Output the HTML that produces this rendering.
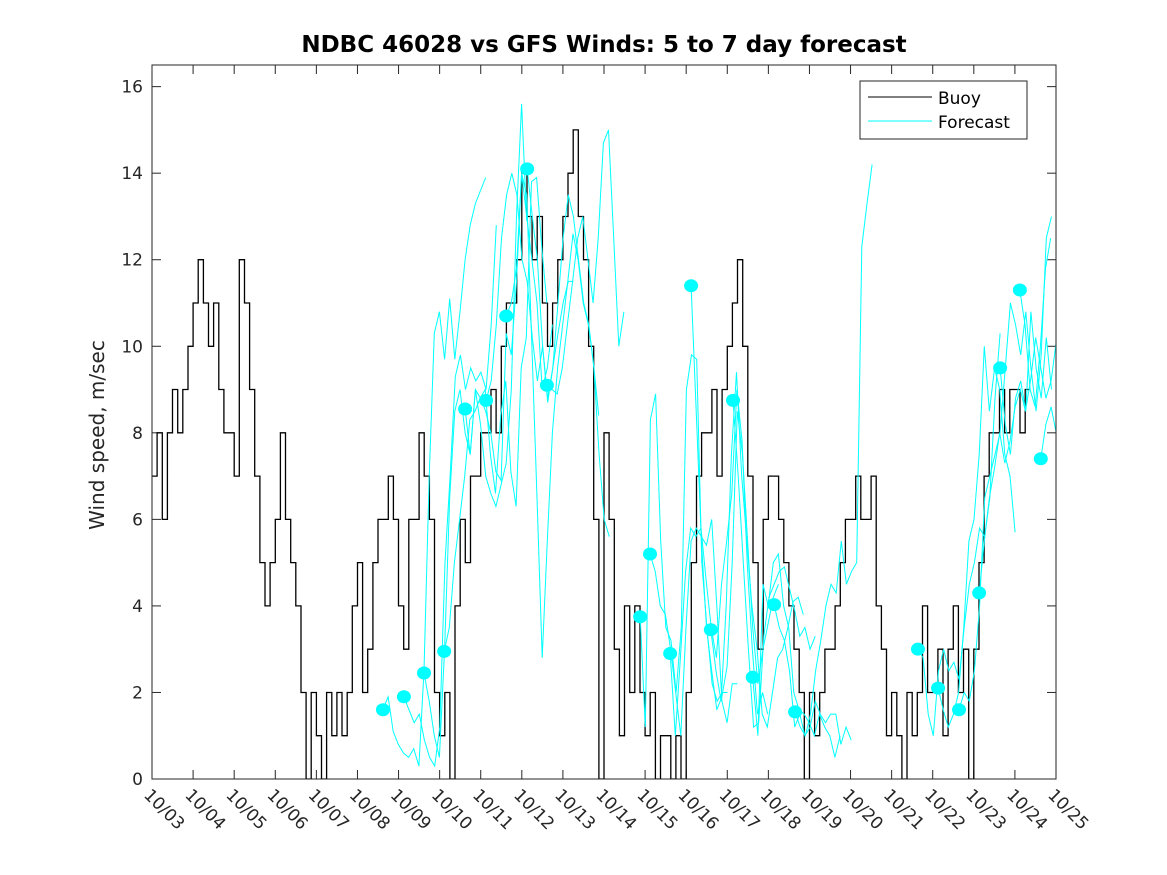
<!DOCTYPE html>
<html><head><meta charset="utf-8"><style>
body{margin:0;background:#fff}
svg{display:block;font-family:"DejaVu Sans","Liberation Sans",sans-serif}
</style></head><body>
<svg id="chart" width="1167" height="875" viewBox="0 0 1167 875">
<defs><clipPath id="pc"><rect x="152" y="65" width="904" height="714"/></clipPath></defs>
<rect width="1167" height="875" fill="#fff"/>
<text x="604" y="52" text-anchor="middle" font-size="23" font-weight="bold" fill="#000">NDBC 46028 vs GFS Winds: 5 to 7 day forecast</text>
<text transform="translate(104,435) rotate(-90)" text-anchor="middle" font-size="20" fill="#262626">Wind speed, m/sec</text>
<g id="grid"></g>
<g id="buoy" clip-path="url(#pc)"></g>
<g id="fc" clip-path="url(#pc)"></g>
<rect x="152" y="65" width="904" height="714" fill="none" stroke="#262626" stroke-width="1"/>
<g>
<rect x="860" y="81" width="167" height="58" fill="#fff" stroke="#262626"/>
<line x1="868" y1="97" x2="932" y2="97" stroke="#000"/>
<text x="938" y="104" font-size="17" fill="#000">Buoy</text>
<line x1="868" y1="121" x2="932" y2="121" stroke="#00ffff"/>
<text x="938" y="128" font-size="17" fill="#000">Forecast</text>
</g>
</svg>
<script>
const xTickLabels=["10/03","10/04","10/05","10/06","10/07","10/08","10/09","10/10","10/11","10/12","10/13","10/14","10/15","10/16","10/17","10/18","10/19","10/20","10/21","10/22","10/23","10/24","10/25"];
const yTicks=[0,2,4,6,8,10,12,14,16];
// buoy wind speed, 3-hourly from 10/03 00:00
const buoyStepDays=0.125;
const buoyValues=[7,8,6,8,9,8,9,10,11,12,11,10,11,9,8,8,7,12,11,9,7,5,4,5,6,8,6,5,4,2,0,2,1,0,2,1,2,1,2,4,5,2,3,5,6,6,7,6,4,3,6,6,8,7,6,2,1,2,0,4,6,5,7,7,8,8,9,8,10,11,11,12,14,13,12,13,11,10,11,12,13,14,15,13,12,10,6,0,8,6,3,1,4,2,4,2,1,2,0,1,1,0,1,0,2,5,7,8,8,9,7,9,10,11,12,10,7,5,3,6,7,7,6,5,4,3,2,0,2,1,2,3,3,4,5,6,6,7,6,6,7,4,3,1,2,1,0,2,1,2,4,2,2,3,1,3,4,2,3,0,3,5,7,8,8,9,8,9,9,8,9];
// forecast dots (day offset from 10/03, m/s)
const dotDays=[5.62,6.13,6.62,7.11,7.62,8.13,8.62,9.13,9.61,11.88,12.12,12.61,13.12,13.60,14.14,14.62,15.14,15.65,18.64,19.13,19.64,20.13,20.64,21.12,21.63];
const dotValues=[1.6,1.9,2.45,2.95,8.55,8.75,10.7,14.1,9.1,3.75,5.2,2.9,11.4,3.45,8.75,2.35,4.03,1.55,3.0,2.1,1.6,4.3,9.5,11.3,7.4];
const fcStepDays=0.125;
const fc0=[1.6,1.9,1.1,0.8,0.6,0.5,0.7,0.3,2.5,7,10.3,10.8,9.7,11.1,9.7,10.8,12,12.8,13.3,13.6,13.9];
const fc1=[1.9,1.6,1.3,1.5,0.9,0.5,0.3,1.2,5,7,9.3,9.8,9.0,9.5,9.2,9.4,9.0,10.5,12.8];
const fc2=[2.45,1.8,1.0,0.5,3,6.5,8.5,9.0,8.0,7.5,9.0,8.2,7.0,6.6,6.3,6.8,7.3,9.0,13.0,15.6,12.9];
const fc3=[2.95,3.5,5,6,7,8.3,8.5,8.8,9.0,7.5,6.6,8.4,9.2,7.1,6.3,9.5,10.2,13.8,13.9,12.3,11.0];
const fc4=[8.55,7.5,9.0,8.8,8.5,8.0,7.1,6.9,10.3,9.8,11.5,14,13,12,11,9,9.5,10.5];
const fc5=[8.75,9.2,10.5,12.5,13.5,14,13.5,12,11.5,10.2,9.2,10,8.8,9.5,10.3,11.0,11.5,11.5];
const fc6=[10.7,11,11.8,14,13.5,10,6.5,2.8,5.5,8,9.5,10.5,11.5,12.6,12,11,10.5,9.6,8.4];
const fc7=[14.1,13,12,10,8.7,9.5,11,12.5,13.5,13,12,11,10.5,9.5,7.5,6,5.6];
const fc8=[9.1,9.0,8.9,9.5,10.5,11.5,12.5,13.0,12.0,11.0,12.5,14.7,15.0,12.5,10.0,10.8];
const fc9=[3.75,1.2,8.3,8.9,5.5,3.5,3.2,2.0,3.5,9.0,9.8,9.7,5,3.5,2.2,1.8,2.0,2.0];
const fc10=[5.2,4.8,4.0,3.8,3.0,2.0,1.0,3.5,5.5,5.8,5.6,5.4,6.0,4.0,1.8,1.3,2.2,2.2];
const fc11=[2.9,1.0,2.8,4.8,5.8,5.6,5.8,4.6,3.5,2.8,4.5,5.5,6.6,9.0,7.8,5,3,1.5,2.0,1.5];
const fc12=[11.4,8.5,5.5,3.5,2.5,1.6,1.9,2.6,5,8.5,7.5,5.5,3.5,2.2,3.0,3.6,4.2,4.5];
const fc13=[3.45,2.5,1.8,4.0,7.5,9.4,7.0,5.5,4.0,3.0,1.5,1.2,2.0,2.8,3.0,3.5,4.1,4.2,3.8];
const fc14=[8.75,7,5,3,1.2,1.3,3.3,4.2,4.5,4.8,4.9,4.4,3.9,3.3,3.5,3.0,3.3];
const fc15=[2.35,1.0,4.5,4.0,5.0,5.2,4.0,3.5,2.0,1.6,1.5,1.3,1.0,1.5,1.2,1.0,0.5,1.0];
const fc16=[4.03,3.5,3.2,2.5,1.2,1.5,1.0,1.2,1.8,1.5,1.3,1.5,1.5,0.8,1.2,0.9];
const fc17=[1.55,1.2,1.0,1.5,2.5,3.2,4.0,4.5,4.3,5.5,4.5,4.8,5.0,12.3,13.3,14.2];
const fc18=[3.0,2.8,1.5,1.0,2.5,3.0,2.5,2.7,2.3,3.5,4.5,5.0,5.8,5.6,6.5,8.8,10.3];
const fc19=[2.1,1.6,1.2,1.5,2.0,3.5,5.5,6.0,7.5,10.0,8.5,9.5,9.0,7.5,7.0,5.7];
const fc20=[1.6,2.0,1.8,2.5,4.0,6.5,7,7.5,8,9.5,11,10.5,9.8,10.8,9.5,8.5,9.8,12.5,13.0];
const fc21=[4.3,5.5,6.5,7.2,8.0,7.3,7.8,8.6,9.0,8.5,9.2,10.2,9.5,8.8,9.2,10.1,8.0,8.3];
const fc22=[9.5,8.2,7.5,8.8,9.2,8.5,10.8,9.5,8.8,10.2,9.0];
const fc23=[11.3,10.5,9.0,8.6,10.0,11.8,12.5];
const fc24=[7.4,8.2,8.6,8.0];
const fcSeries=[fc0,fc1,fc2,fc3,fc4,fc5,fc6,fc7,fc8,fc9,fc10,fc11,fc12,fc13,fc14,fc15,fc16,fc17,fc18,fc19,fc20,fc21,fc22,fc23,fc24];

const NS="http://www.w3.org/2000/svg";
const X0=152,X1=1056,Y0=779,Y1=65,DMAX=22,VMAX=16.5;
function xs(d){return X0+(X1-X0)*d/DMAX;}
function ys(v){return Y0-(Y0-Y1)*v/VMAX;}
function mk(tag,parent,attrs){const e=document.createElementNS(NS,tag);for(const k in attrs)e.setAttribute(k,attrs[k]);parent.appendChild(e);return e;}

const grid=document.getElementById('grid');
xTickLabels.forEach((lab,i)=>{
  const x=xs(i);
  const t1=mk('line',grid,{x1:x,y1:Y0,x2:x,y2:Y0-9,stroke:'#262626'});
  
  
  const t2=mk('line',grid,{x1:x,y1:Y1,x2:x,y2:Y1+9,stroke:'#262626'});
  
  
  const tx=mk('text',grid,{transform:`translate(${x-9},${Y0+17}) rotate(45)`,'font-size':'17',fill:'#262626'});
  tx.textContent=lab;
  
  
});
yTicks.forEach(v=>{
  const y=ys(v);
  const t1=mk('line',grid,{x1:X0,y1:y,x2:X0+9,y2:y,stroke:'#262626'});
  
  
  const t2=mk('line',grid,{x1:X1,y1:y,x2:X1-9,y2:y,stroke:'#262626'});
  
  
  const tx=mk('text',grid,{x:X0-9,y:y+6,'text-anchor':'end','font-size':'17',fill:'#262626'});
  tx.textContent=v;
  
  
});

// buoy step line
let d='';
buoyValues.forEach((v,i)=>{
  const xa=xs(i*buoyStepDays),xb=xs((i+1)*buoyStepDays),y=ys(v);
  d+=(i===0?'M':'L')+xa.toFixed(1)+','+y.toFixed(1)+'L'+xb.toFixed(1)+','+y.toFixed(1);
});
const bp=mk('path',document.getElementById('buoy'),{d:d,fill:'none',stroke:'#000','stroke-width':'1.3'});



const fcg=document.getElementById('fc');
fcSeries.forEach((s,k)=>{
  const start=dotDays[k];
  const pts=s.map((v,i)=>xs(start+i*fcStepDays).toFixed(1)+','+ys(v).toFixed(1)).join(' ');
  const pl=mk('polyline',fcg,{points:pts,fill:'none',stroke:'#00ffff','stroke-width':'1'});
  
  
});
dotDays.forEach((dd,i)=>{
  const c=mk('ellipse',fcg,{cx:xs(dd),cy:ys(dotValues[i]),rx:7,ry:6.5,fill:'#00ffff'});
  
  
});
</script>
</body></html>
